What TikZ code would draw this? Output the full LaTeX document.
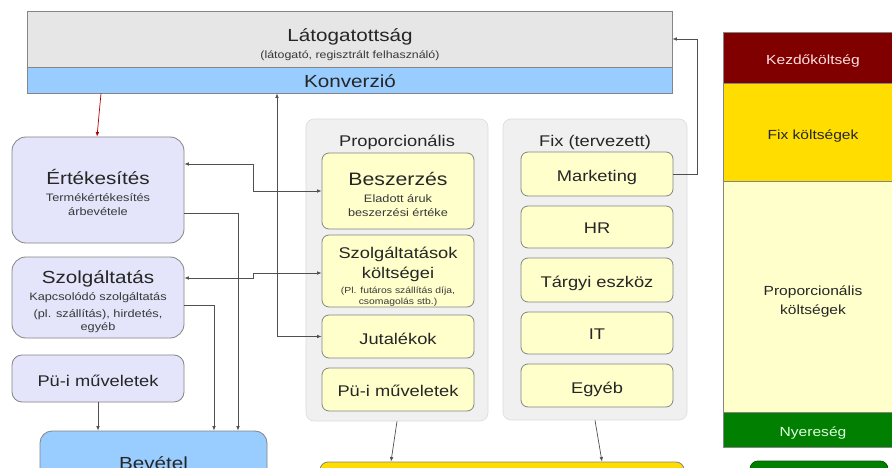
\documentclass[tikz,border=0pt]{standalone}
\usepackage{fontspec}
\setmainfont{Liberation Sans}[FakeStretch=1.18]
\usetikzlibrary{arrows.meta}
\definecolor{txtc}{HTML}{262626}
\definecolor{subc}{HTML}{383838}
\definecolor{bordc}{HTML}{858585}
\definecolor{cline}{HTML}{505050}
\definecolor{latfill}{HTML}{E6E6E6}
\definecolor{bluefill}{HTML}{99CCFF}
\definecolor{lavfill}{HTML}{E4E4FA}
\definecolor{yelfill}{HTML}{FFFFCC}
\definecolor{grpfill}{HTML}{F0F0F0}
\definecolor{grpbord}{HTML}{DCDCDC}
\definecolor{darkred}{HTML}{800000}
\definecolor{gold}{HTML}{FFDD00}
\definecolor{dgreen}{HTML}{007F00}
\definecolor{redline}{HTML}{B00000}
\newcommand{\fsz}[1]{\fontsize{#1}{#1}\selectfont}
\begin{document}
\begin{tikzpicture}[x=1pt,y=-1pt,
  >={Latex[length=4.5pt,width=3.6pt]},
  bx/.style={draw=bordc, line width=0.8pt, inner sep=0pt},
  latbox/.style={bx, fill=latfill},
  blubox/.style={bx, fill=bluefill},
  lavbox/.style={bx, fill=lavfill, rounded corners=14pt, minimum width=172pt},
  yelbox/.style={bx, fill=yelfill, rounded corners=7pt, minimum width=152pt},
  grpbox/.style={draw=grpbord, fill=grpfill, line width=0.6pt, inner sep=0pt, rounded corners=8pt},
  colbox/.style={draw=bordc, line width=0.8pt, inner sep=0pt, minimum width=180pt},
  lbl/.style={text=txtc, inner sep=0pt, anchor=mid, yshift=-2.5pt},
  sub/.style={text=subc, inner sep=0pt, anchor=mid, yshift=-2pt, font=\fsz{10.8}},
  conn/.style={draw=cline, line width=0.7pt}
]
\useasboundingbox (0,0) rectangle (892,468);
\fill[white] (0,0) rectangle (892,468);
\clip (0,0) rectangle (892,468);

% top bars
\node[latbox, minimum width=645pt, minimum height=56pt] (lat) at (349.5,39) {};
\node[blubox, minimum width=645pt, minimum height=26pt] (konv) at (349.5,80) {};
\node[lbl, font=\fsz{17.5}] (latT) at (350,36) {Látogatottság};
\node[sub, font=\fsz{10.5}] (latS) at (350,54) {(látogató, regisztrált felhasználó)};
\node[lbl, font=\fsz{17.5}] (konvT) at (350,82) {Konverzió};

% left column
\node[lavbox, minimum height=106pt] (ert) at (98,190) {};
\node[lbl, font=\fsz{17.5}] (ertT) at (98,179) {Értékesítés};
\node[sub] (ertS1) at (98,197) {Termékértékesítés};
\node[sub] (ertS2) at (98,211) {árbevétele};

\node[lavbox, minimum height=81pt] (szolg) at (98,297.5) {};
\node[lbl, font=\fsz{17.5}] (szolgT) at (98,278) {Szolgáltatás};
\node[sub] (szolgS1) at (98,296) {Kapcsolódó szolgáltatás};
\node[sub] (szolgS2) at (98,313) {(pl. szállítás), hirdetés,};
\node[sub] (szolgS3) at (98,326) {egyéb};

\node[lavbox, minimum height=47pt, rounded corners=10pt] (pui1) at (98,378.5) {};
\node[lbl, font=\fsz{15.5}] (pui1T) at (98,381) {Pü-i műveletek};

\node[blubox, rounded corners=12pt, minimum width=227pt, minimum height=89pt] (bev) at (153.5,475.5) {};
\node[lbl, font=\fsz{17.5}] (bevT) at (153.5,464) {Bevétel};

% groups
\node[grpbox, minimum width=182pt, minimum height=302pt] (grpP) at (397,270) {};
\node[grpbox, minimum width=184pt, minimum height=301pt] (grpF) at (595,269.5) {};
\node[lbl, font=\fsz{15.5}] (grpPT) at (397,141) {Proporcionális};
\node[lbl, font=\fsz{15.5}] (grpFT) at (595,141) {Fix (tervezett)};

% proportional items
\node[yelbox, minimum height=76pt] (besz) at (398,191) {};
\node[lbl, font=\fsz{18}] (beszT) at (398,180) {Beszerzés};
\node[sub] (beszS1) at (398,198) {Eladott áruk};
\node[sub] (beszS2) at (398,212) {beszerzési értéke};

\node[yelbox, minimum height=72pt] (szk) at (398,271) {};
\node[lbl, font=\fsz{15.5}] (szkT1) at (398,253) {Szolgáltatások};
\node[lbl, font=\fsz{15.5}] (szkT2) at (398,273) {költségei};
\node[sub, font=\fsz{8.8}] (szkS1) at (398,289) {(Pl. futáros szállítás díja,};
\node[sub, font=\fsz{8.8}] (szkS2) at (398,300) {csomagolás stb.)};

\node[yelbox, minimum height=43pt] (jut) at (398,336.5) {};
\node[lbl, font=\fsz{15.5}] (jutT) at (398,339) {Jutalékok};
\node[yelbox, minimum height=43pt] (pui2) at (398,389.5) {};
\node[lbl, font=\fsz{15.5}] (pui2T) at (398,391) {Pü-i műveletek};

% fixed items
\node[yelbox, minimum height=44pt] (mkt) at (597,174) {};
\node[lbl, font=\fsz{15.5}] (mktT) at (597,176) {Marketing};
\node[yelbox, minimum height=42pt] (hr) at (597,227) {};
\node[lbl, font=\fsz{15.5}] (hrT) at (597,228) {HR};
\node[yelbox, minimum height=44pt] (targy) at (597,280) {};
\node[lbl, font=\fsz{15.5}] (targyT) at (597,282) {Tárgyi eszköz};
\node[yelbox, minimum height=42pt] (it) at (597,333) {};
\node[lbl, font=\fsz{15.5}] (itT) at (597,334) {IT};
\node[yelbox, minimum height=43pt] (egyeb) at (597,385.5) {};
\node[lbl, font=\fsz{15.5}] (egyebT) at (597,388) {Egyéb};

% bottom boxes
\node[bx, fill=gold, rounded corners=8pt, minimum width=364pt, minimum height=58pt] (yel) at (502,491) {};
\node[bx, draw=dgreen!70!black, fill=dgreen, rounded corners=8pt, minimum width=138pt, minimum height=60pt] (grn) at (819,491) {};

% right column
\node[colbox, fill=darkred, minimum height=51pt] (kezd) at (813,57.5) {};
\node[colbox, fill=gold, minimum height=98pt] (fixk) at (813,132) {};
\node[colbox, fill=yelfill, minimum height=231pt] (propk) at (813,296.5) {};
\node[colbox, fill=dgreen, minimum height=35pt] (nyer) at (813,429.5) {};
\node[lbl, text=white!88!red, font=\fsz{13.2}] (kezdT) at (813,59) {Kezdőköltség};
\node[lbl, font=\fsz{13.2}] (fixkT) at (813,134) {Fix költségek};
\node[lbl, font=\fsz{13.2}] (propkT1) at (813,290) {Proporcionális};
\node[lbl, font=\fsz{13.2}] (propkT2) at (813,309) {költségek};
\node[lbl, text=white!88!green, font=\fsz{13.2}] (nyerT) at (813,431) {Nyereség};

% connectors
\draw[conn, draw=redline, ->] ([xshift=-248.5pt]konv.south) -- ([xshift=-1pt]ert.north);
\draw[conn, <->] ([yshift=26pt]ert.east) -| (253,191) -- (besz.west);
\draw[conn, <->] ([yshift=19.5pt]szolg.east) -| (253,273) -- ([yshift=-2pt]szk.west);
\draw[conn, <->] ([xshift=-72.5pt]konv.south) |- (jut.west);
\draw[conn, ->] ([yshift=-23pt]ert.east) -| ([xshift=84.5pt]bev.north);
\draw[conn, ->] ([yshift=-7.5pt]szolg.east) -| ([xshift=60.5pt]bev.north);
\draw[conn, ->] (pui1.south) -- (pui1.south |- bev.north);
\draw[conn, ->] (mkt.east) -- ++(24,0) |- (lat.east);
\draw[conn, ->] (grpP.south) -- ([xshift=-111pt]yel.north);
\draw[conn, ->] (grpF.south) -- ([xshift=100pt]yel.north);
\end{tikzpicture}
\end{document}
